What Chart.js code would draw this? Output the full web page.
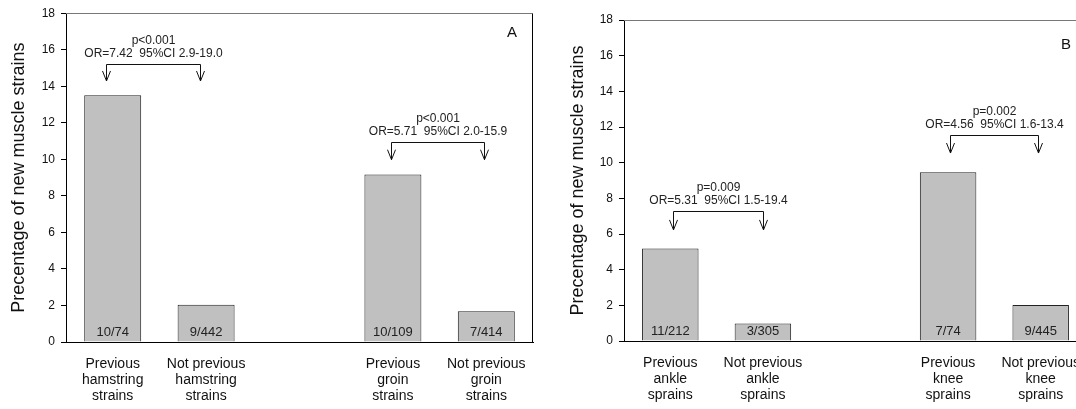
<!DOCTYPE html>
<html><head><meta charset="utf-8">
<script src="https://cdn.jsdelivr.net/npm/chart.js@4.4.1/dist/chart.umd.min.js"></script>
<style>
html,body{margin:0;padding:0;background:#fff;overflow:hidden;width:1076px;height:409px;position:relative;}
#wrapA{position:absolute;left:0;top:0;width:540px;height:409px;}
#wrapB{position:absolute;left:540px;top:0;width:560px;height:409px;}
canvas{display:block;}
</style></head><body>
<div id="wrapA"><canvas id="chartA" width="540" height="409"></canvas></div>
<div id="wrapB"><canvas id="chartB" width="560" height="409"></canvas></div>
<script>
// ---- data ----
const categoriesA = [["Previous","hamstring","strains"],["Not previous","hamstring","strains"],"",["Previous","groin","strains"],["Not previous","groin","strains"]];
const valuesA = [13.51, 2.04, null, 9.17, 1.69];
const countsA = ["10/74","9/442","","10/109","7/414"];

const categoriesB = [["Previous","ankle","sprains"],["Not previous","ankle","sprains"],"",["Previous","knee","sprains"],["Not previous","knee","sprains"]];
const valuesB = [5.19, 0.98, null, 9.46, 2.02];
const countsB = ["11/212","3/305","","7/74","9/445"];

const yTickValues = [0,2,4,6,8,10,12,14,16,18];
const yTitle = "Precentage of new muscle strains";

const comparisonsA = [
  {from:-0.07, to:0.93, lineY:15.22, tipY:14.29, p:"p<0.001", or:"OR=7.42  95%CI 2.9-19.0"},
  {from:2.98, to:3.97, lineY:10.97, tipY:9.98, p:"p<0.001", or:"OR=5.71  95%CI 2.0-15.9"}
];
const comparisonsB = [
  {from:0.03, to:1.0, lineY:7.29, tipY:6.23, p:"p=0.009", or:"OR=5.31  95%CI 1.5-19.4"},
  {from:3.02, to:3.97, lineY:11.55, tipY:10.54, p:"p=0.002", or:"OR=4.56  95%CI 1.6-13.4"}
];

const FONT = '"Liberation Sans", Arial, Helvetica, sans-serif';

const annotPlugin = {
  id: 'annot',
  afterDatasetsDraw(chart, args, opts) {
    const {ctx, chartArea: ca, scales: {x, y}} = chart;
    ctx.save();
    ctx.lineWidth = 1;
    // frame: top and right
    const top = Math.round(ca.top) + 0.5, right = Math.round(ca.right) - 0.5;
    ctx.strokeStyle = '#777';
    ctx.beginPath(); ctx.moveTo(ca.left, top); ctx.lineTo(right, top); ctx.stroke();
    ctx.strokeStyle = '#000';
    ctx.beginPath(); ctx.moveTo(right, top); ctx.lineTo(right, ca.bottom); ctx.stroke();
    // counts inside bars
    const meta = chart.getDatasetMeta(0);
    ctx.fillStyle = '#222';
    ctx.font = '13px ' + FONT;
    ctx.textAlign = 'center';
    ctx.textBaseline = 'middle';
    const y0 = y.getPixelForValue(0);
    meta.data.forEach((bar, i) => {
      const t = opts.counts[i];
      if (t) ctx.fillText(t, bar.x, y0 - 9.5);
    });
    // comparison brackets
    ctx.font = '12px ' + FONT;
    ctx.strokeStyle = '#111';
    opts.comparisons.forEach(c => {
      const x1 = Math.round(x.getPixelForValue(c.from)) + 0.5;
      const x2 = Math.round(x.getPixelForValue(c.to)) + 0.5;
      const ly = Math.round(y.getPixelForValue(c.lineY)) + 0.5;
      const ty = y.getPixelForValue(c.tipY);
      ctx.beginPath();
      ctx.moveTo(x1, ty); ctx.lineTo(x1, ly); ctx.lineTo(x2, ly); ctx.lineTo(x2, ty);
      ctx.stroke();
      [x1, x2].forEach(ax => {
        ctx.beginPath();
        ctx.moveTo(ax - 4, ty - 10); ctx.lineTo(ax, ty); ctx.lineTo(ax + 4, ty - 10);
        ctx.stroke();
      });
      const cx = (x1 + x2) / 2;
      ctx.fillText(c.or, cx, ly - 11);
      ctx.fillText(c.p, cx, ly - 24);
    });
    // panel letter
    ctx.font = '15px ' + FONT;
    ctx.fillStyle = '#111';
    ctx.fillText(opts.letter, ca.right - opts.letterDx, ca.top + opts.letterDy);
    ctx.restore();
  }
};

function makeChart(id, labels, values, counts, comparisons, letter, cfg) {
  return new Chart(document.getElementById(id), {
    type: 'bar',
    data: {
      labels: labels,
      datasets: [{
        data: values,
        backgroundColor: '#c0c0c0',
        borderColor: '#222',
        borderWidth: 1,
        barPercentage: 0.61,
        categoryPercentage: 1.0
      }]
    },
    options: {
      responsive: false,
      animation: false,
      devicePixelRatio: 1,
      layout: {padding: {left: cfg.padLeft, right: cfg.padRight, top: cfg.padTop, bottom: 0}},
      plugins: {
        legend: {display: false},
        tooltip: {enabled: false},
        annot: {counts: counts, comparisons: comparisons, letter: letter, letterDx: cfg.letterDx, letterDy: cfg.letterDy}
      },
      scales: {
        x: {
          grid: {display: false, drawTicks: false},
          border: {display: true, color: '#000', width: 1},
          ticks: {color: '#111', font: {family: FONT, size: 14, lineHeight: 1.15}, padding: 14, maxRotation: 0, autoSkip: false},
          afterFit(scale) { scale.height = cfg.xHeight; }
        },
        y: {
          min: 0, max: 18,
          afterBuildTicks(scale) { scale.ticks = yTickValues.map(v => ({value: v})); },
          grid: {display: true, drawOnChartArea: false, drawTicks: true, tickLength: 5, color: '#000'},
          border: {display: true, color: '#000', width: 1},
          ticks: {color: '#111', font: {family: FONT, size: 12}, padding: 6},
          title: {display: true, text: yTitle, color: '#111', font: {family: FONT, size: 18}, padding: 0},
          afterFit(scale) { scale.width = cfg.yWidth; }
        }
      }
    },
    plugins: [annotPlugin]
  });
}

makeChart('chartA', categoriesA, valuesA, countsA, comparisonsA, 'A',
  {padLeft: 8, padRight: 4, padTop: 12, xHeight: 67, yWidth: 58, letterDx: 21, letterDy: 20});
makeChart('chartB', categoriesB, valuesB, countsB, comparisonsB, 'B',
  {padLeft: 27, padRight: 13, padTop: 20, xHeight: 68, yWidth: 57, letterDx: 21, letterDy: 25});
</script>
</body></html>
